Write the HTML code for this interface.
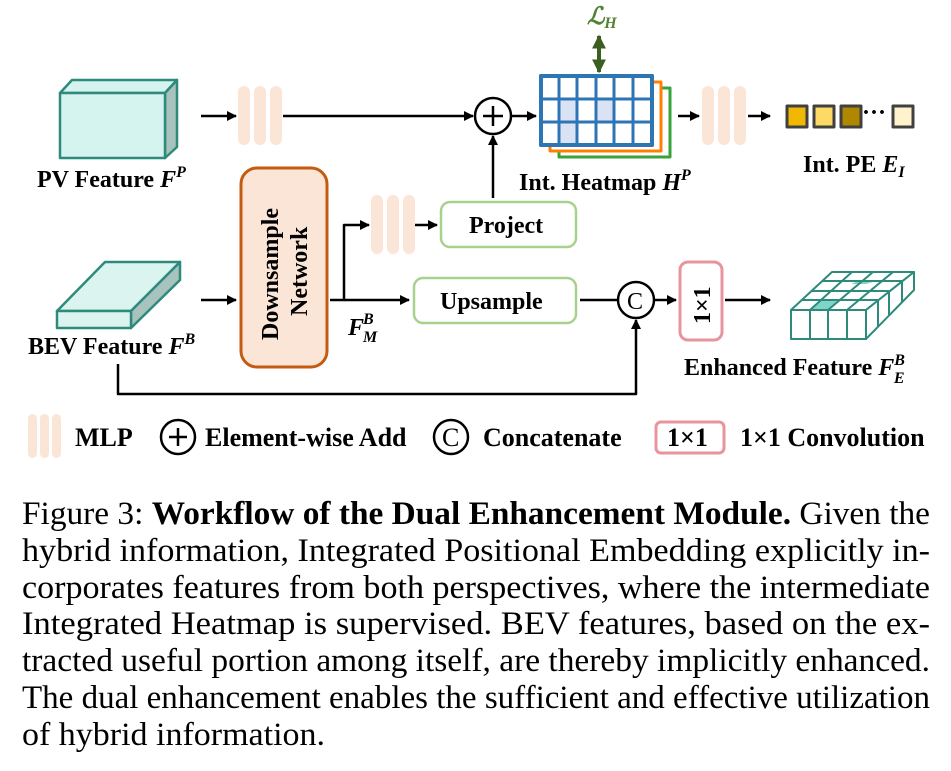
<!DOCTYPE html>
<html><head><meta charset="utf-8"><style>
html,body{margin:0;padding:0;background:#fff;width:951px;height:771px;overflow:hidden}
svg{display:block}
text{font-family:"Liberation Serif",serif}
.b{font-weight:bold;font-size:24px}
.lg{font-size:26px}
.cap{font-size:33px}
</style></head><body>
<svg width="951" height="771" viewBox="0 0 951 771" xmlns="http://www.w3.org/2000/svg">
<defs>
<marker id="ar" viewBox="0 0 10 10" refX="9" refY="5" markerWidth="4" markerHeight="4" orient="auto-start-reverse"><path d="M0,0 L10,5 L0,10 z" fill="#000"/></marker>
<marker id="ag" viewBox="0 0 10 10" refX="9" refY="5" markerWidth="3.5" markerHeight="3.5" orient="auto-start-reverse"><path d="M0,0 L10,5 L0,10 z" fill="#3a5f20"/></marker>
<g id="mlp" fill="#fbe5d6"><rect x="0" y="0" width="12" height="59" rx="6"/><rect x="16" y="0" width="12" height="59" rx="6"/><rect x="32" y="0" width="12" height="59" rx="6"/></g>
</defs>
<g stroke="#000" stroke-width="2.5" fill="none" stroke-linejoin="round">
<polygon points="60,93 72,80 177,80 165,93" fill="#d5f3ef" stroke="#2e8b7c"/>
<polygon points="165,93 177,80 177,147 165,158" fill="#a8c3be" stroke="#2e8b7c"/>
<rect x="60" y="93" width="105" height="65" fill="#d5f3ef" stroke="#2e8b7c"/>
<line x1="201" y1="116" x2="236" y2="116" marker-end="url(#ar)"/>
<line x1="283" y1="116" x2="473" y2="116" marker-end="url(#ar)"/>
<circle cx="493" cy="116" r="18" fill="#fff"/>
<line x1="483" y1="116" x2="503" y2="116"/><line x1="493" y1="106" x2="493" y2="126"/>
<line x1="511" y1="116" x2="536" y2="116" marker-end="url(#ar)"/>
<line x1="493" y1="198" x2="493" y2="136" marker-end="url(#ar)"/>
<rect x="559" y="88" width="111" height="69" fill="#fff" stroke="#3aa23a" stroke-width="3"/>
<rect x="550" y="82" width="111" height="69" fill="#fff" stroke="#ff8000" stroke-width="3"/>
<rect x="541" y="76" width="111" height="69" fill="#fff" stroke="#2e75b6" stroke-width="4"/>
<rect x="559" y="99" width="18" height="46" fill="#dae3f3" stroke="none"/>
<rect x="596" y="99" width="18" height="23" fill="#dae3f3" stroke="none"/>
<g stroke="#2e75b6" stroke-width="3">
<line x1="559" y1="76" x2="559" y2="145"/><line x1="577" y1="76" x2="577" y2="145"/><line x1="596" y1="76" x2="596" y2="145"/><line x1="614" y1="76" x2="614" y2="145"/><line x1="633" y1="76" x2="633" y2="145"/>
<line x1="541" y1="99" x2="652" y2="99"/><line x1="541" y1="122" x2="652" y2="122"/>
<rect x="541" y="76" width="111" height="69" stroke-width="4"/>
</g>
<line x1="599" y1="36" x2="599" y2="72" stroke="#3a5f20" stroke-width="4" marker-start="url(#ag)" marker-end="url(#ag)"/>
<line x1="678" y1="116" x2="699" y2="116" marker-end="url(#ar)"/>
<line x1="748" y1="116" x2="770" y2="116" marker-end="url(#ar)"/>
<g stroke="#404040" stroke-width="3"><rect x="787" y="106" width="20" height="21" fill="#f0b800"/><rect x="814" y="106" width="20" height="21" fill="#fdd966"/><rect x="841" y="106" width="20" height="21" fill="#b08800"/><rect x="893" y="106" width="20" height="21" fill="#fff2cc"/></g>
<polygon points="57,311 105,262 180,262 131,311" fill="#dcf4f0" stroke="#2e8b7c"/>
<polygon points="131,311 180,262 180,280 131,328" fill="#a8c3be" stroke="#2e8b7c"/>
<rect x="57" y="311" width="74" height="17" fill="#dcf4f0" stroke="#2e8b7c"/>
<line x1="201" y1="300" x2="236" y2="300" marker-end="url(#ar)"/>
<rect x="241" y="168" width="86" height="199" rx="16" fill="#fbe5d6" stroke="#c55a11" stroke-width="3"/>
<polyline points="330,300 344,300 344,225 369,225" marker-end="url(#ar)"/>
<line x1="344" y1="300" x2="409" y2="300" marker-end="url(#ar)"/>
<line x1="415" y1="225" x2="437" y2="225" marker-end="url(#ar)"/>
<rect x="441" y="202" width="135" height="45" rx="9" stroke="#a9d18e" stroke-width="2.5"/>
<rect x="414" y="278" width="162" height="45" rx="9" stroke="#a9d18e" stroke-width="2.5"/>
<line x1="580" y1="300" x2="618" y2="300"/>
<polyline points="118,364 118,394 636,394 636,320" marker-end="url(#ar)"/>
<circle cx="636" cy="300" r="18" fill="#fff"/>
<line x1="655" y1="300" x2="676" y2="300" marker-end="url(#ar)"/>
<rect x="680" y="262" width="42" height="78" rx="8" stroke="#e8949c" stroke-width="3"/>
<line x1="725" y1="300" x2="770" y2="300" marker-end="url(#ar)"/>
<g stroke="#2e8b7c" stroke-width="2">
<polygon points="791,310 832,272 914,272 866,310" fill="#fff"/>
<polygon points="851,284 866,284 879,280 860,280" fill="#7fd6c8" stroke="none"/>
<polygon points="810,310 828,310 838,300 820,300" fill="#7fd6c8" stroke="none"/>
<polygon points="866,310 914,272 914,290 866,339" fill="#fff"/>
<rect x="791" y="310" width="75" height="29" fill="#fff"/>
<line x1="810" y1="310" x2="810" y2="339"/><line x1="828" y1="310" x2="828" y2="339"/><line x1="847" y1="310" x2="847" y2="339"/>
<line x1="810" y1="310" x2="852" y2="272"/><line x1="828" y1="310" x2="873" y2="272"/><line x1="847" y1="310" x2="893" y2="272"/>
<line x1="801" y1="300" x2="878" y2="300"/><line x1="812" y1="291" x2="889" y2="291"/><line x1="822" y1="281" x2="902" y2="281"/>
<line x1="878" y1="300" x2="878" y2="327"/><line x1="889" y1="291" x2="889" y2="316"/><line x1="902" y1="281" x2="902" y2="303"/>
</g>
<circle cx="178" cy="437" r="17"/><line x1="169" y1="437" x2="187" y2="437"/><line x1="178" y1="428" x2="178" y2="446"/>
<circle cx="451" cy="437" r="17"/>
<rect x="656" y="422" width="68" height="31" rx="5" stroke="#e8949c" stroke-width="3"/>
</g>
<use href="#mlp" x="238" y="86"/>
<use href="#mlp" x="371" y="195"/>
<use href="#mlp" x="702" y="86"/>
<g fill="#fbe5d6"><rect x="28" y="414" width="9" height="44" rx="4.5"/><rect x="40" y="414" width="9" height="44" rx="4.5"/><rect x="52" y="414" width="9" height="44" rx="4.5"/></g>
<g class="b">
<text x="37" y="187">PV Feature <tspan font-style="italic">F</tspan><tspan font-style="italic" font-size="16" dy="-10">P</tspan></text>
<text x="28" y="354">BEV Feature <tspan font-style="italic">F</tspan><tspan font-style="italic" font-size="16" dy="-10">B</tspan></text>
<text x="519" y="190">Int. Heatmap <tspan font-style="italic">H</tspan><tspan font-style="italic" font-size="16" dy="-10">P</tspan></text>
<text x="803" y="172">Int. PE <tspan font-style="italic">E</tspan><tspan font-style="italic" font-size="16" dy="5">I</tspan></text>
<text x="684" y="375">Enhanced Feature <tspan font-style="italic">F</tspan><tspan font-style="italic" font-size="16" dy="-10">B</tspan><tspan font-style="italic" font-size="16" dx="-11" dy="18">E</tspan></text>
<text x="348" y="335" font-style="italic">F</text><text x="363" y="324" font-style="italic" font-size="16">B</text><text x="363" y="342" font-style="italic" font-size="16">M</text>
<text x="469" y="233">Project</text>
<text x="440" y="309">Upsample</text>
<text x="0" y="0" transform="translate(278,340) rotate(-90)">Downsample</text>
<text x="0" y="0" transform="translate(307,316) rotate(-90)">Network</text>
<text x="0" y="0" transform="translate(710,324) rotate(-90)">1×1</text>
<text x="627" y="309" font-weight="normal">C</text>
<text x="587" y="24" fill="#548235" font-style="italic">ℒ<tspan font-size="16" dy="4">H</tspan></text>
<text x="862" y="120">···</text>
</g>
<g class="b lg">
<text x="75" y="446">MLP</text>
<text x="205" y="446">Element-wise Add</text>
<text x="442" y="446" font-weight="normal">C</text>
<text x="483" y="446">Concatenate</text>
<text x="667" y="446">1×1</text>
<text x="740" y="446">1×1 Convolution</text>
</g>
<g class="cap">
<text x="22" y="524" textLength="908" lengthAdjust="spacingAndGlyphs">Figure 3: <tspan font-weight="bold">Workflow of the Dual Enhancement Module.</tspan> Given the</text>
<text x="22" y="561" textLength="908" lengthAdjust="spacingAndGlyphs">hybrid information, Integrated Positional Embedding explicitly in-</text>
<text x="22" y="598" textLength="908" lengthAdjust="spacingAndGlyphs">corporates features from both perspectives, where the intermediate</text>
<text x="22" y="634" textLength="908" lengthAdjust="spacingAndGlyphs">Integrated Heatmap is supervised.  BEV features, based on the ex-</text>
<text x="22" y="671" textLength="908" lengthAdjust="spacingAndGlyphs">tracted useful portion among itself, are thereby implicitly enhanced.</text>
<text x="22" y="708" textLength="908" lengthAdjust="spacingAndGlyphs">The dual enhancement enables the sufficient and effective utilization</text>
<text x="22" y="745" textLength="303" lengthAdjust="spacingAndGlyphs">of hybrid information.</text>
</g>
</svg>
</body></html>
